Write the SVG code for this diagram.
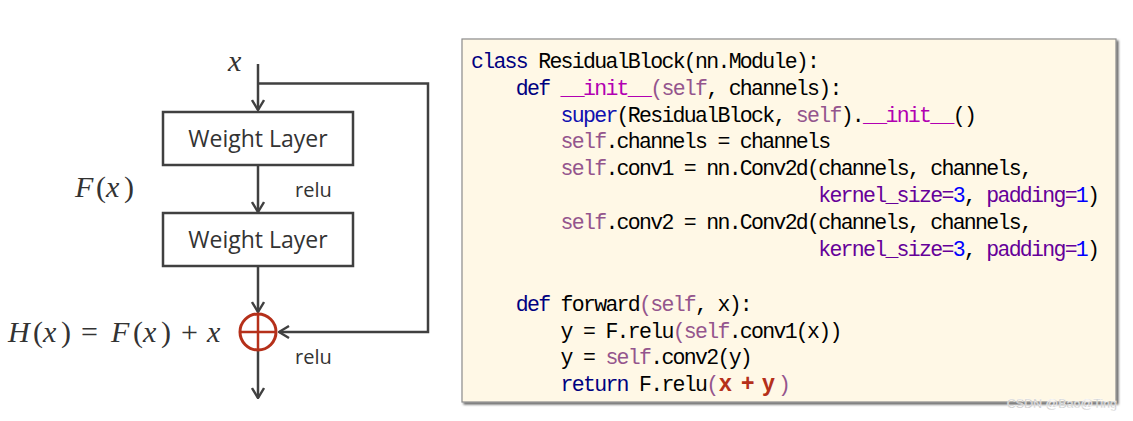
<svg xmlns="http://www.w3.org/2000/svg" width="1133" height="421" viewBox="0 0 1133 421">
<defs>
<marker id="arr" viewBox="0 0 12 14" refX="11" refY="7" markerWidth="12" markerHeight="14" orient="auto" markerUnits="userSpaceOnUse">
<path d="M1,1 L11,7 L1,13" fill="none" stroke="#404040" stroke-width="2.4"/>
</marker>
<filter id="sh" x="-5%" y="-5%" width="110%" height="110%">
<feDropShadow dx="2" dy="2" stdDeviation="1.2" flood-color="#000" flood-opacity="0.6"/>
</filter>
</defs>
<style>
.box{fill:#fff;stroke:#404040;stroke-width:2.5}
.lbl{font-family:"Open Sans","Noto Sans",sans-serif;font-size:23px;fill:#333;text-anchor:middle}
.relu{font-family:"Open Sans","Noto Sans",sans-serif;font-size:20px;fill:#333}
.math{font-family:"Liberation Serif",serif;font-size:30px;fill:#333}
.it{font-style:italic}
.conn{fill:none;stroke:#404040;stroke-width:2.5}
.code{font-family:"Liberation Mono",monospace;font-size:21.5px;letter-spacing:-1.7px;fill:#000;white-space:pre}
.kw{fill:#000080}
.bi{fill:#1010b0}
.sf{fill:#94558d}
.mg{fill:#b200b2}
.pr{fill:#660099}
.nm{fill:#0000ff}
.rd{font-family:"Liberation Sans",sans-serif;font-weight:bold;font-size:23px;fill:#b5301a}
</style>

<g id="connectors">
<path class="conn" d="M258,64 V110" marker-end="url(#arr)"/>
<path class="conn" d="M258,83.5 H428 V332 H279" marker-end="url(#arr)"/>
<path class="conn" d="M258,165 V212" marker-end="url(#arr)"/>
<path class="conn" d="M258,266 V312" marker-end="url(#arr)"/>
<path class="conn" d="M258,351 V398" marker-end="url(#arr)"/>
</g>

<g id="node-input">
<text class="math it" x="228" y="71">x</text>
</g>

<g id="node-weight1">
<rect class="box" x="163" y="112" width="190" height="53"/>
<text class="lbl" x="258" y="147">Weight Layer</text>
</g>

<g id="node-weight2">
<rect class="box" x="163" y="213" width="190" height="53"/>
<text class="lbl" x="258" y="248">Weight Layer</text>
</g>

<g id="node-add">
<circle cx="258" cy="332" r="18" fill="none" stroke="#b5301a" stroke-width="3"/>
<path d="M240,332 H276 M258,314 V350" stroke="#b5301a" stroke-width="2.5" fill="none"/>
</g>

<g id="labels">
<text class="relu" x="295" y="197">relu</text>
<text class="relu" x="295" y="364">relu</text>
<text class="math" y="197"><tspan class="it" x="75">F</tspan><tspan x="96">(</tspan><tspan class="it" x="106">x</tspan><tspan x="124">)</tspan></text>
<text class="math" y="342"><tspan class="it" x="8">H</tspan><tspan x="33">(</tspan><tspan class="it" x="43">x</tspan><tspan x="61">)</tspan><tspan x="81">=</tspan><tspan class="it" x="111">F</tspan><tspan x="133">(</tspan><tspan class="it" x="143">x</tspan><tspan x="161">)</tspan><tspan x="181">+</tspan><tspan class="it" x="207">x</tspan></text>
</g>

<g id="code-block">
<rect x="462" y="39" width="654" height="363" fill="#fff8e6" stroke="#8c8c8c" stroke-width="1.2" filter="url(#sh)"/>
<text class="code" x="471" y="68" xml:space="preserve"><tspan class="kw">class</tspan> ResidualBlock(nn.Module):</text>
<text class="code" x="515.8" y="95" xml:space="preserve"><tspan class="kw">def</tspan> <tspan class="mg">__init__</tspan><tspan class="sf">(self</tspan>, channels):</text>
<text class="code" x="560.6" y="122" xml:space="preserve"><tspan class="bi">super</tspan>(ResidualBlock, <tspan class="sf">self</tspan>).<tspan class="mg">__init__</tspan>()</text>
<text class="code" x="560.6" y="148" xml:space="preserve"><tspan class="sf">self</tspan>.channels = channels</text>
<text class="code" x="560.6" y="175" xml:space="preserve"><tspan class="sf">self</tspan>.conv1 = nn.Conv2d(channels, channels,</text>
<text class="code" x="818.2" y="202" xml:space="preserve"><tspan class="pr">kernel_size=</tspan><tspan class="nm">3</tspan>, <tspan class="pr">padding=</tspan><tspan class="nm">1</tspan>)</text>
<text class="code" x="560.6" y="229" xml:space="preserve"><tspan class="sf">self</tspan>.conv2 = nn.Conv2d(channels, channels,</text>
<text class="code" x="818.2" y="256" xml:space="preserve"><tspan class="pr">kernel_size=</tspan><tspan class="nm">3</tspan>, <tspan class="pr">padding=</tspan><tspan class="nm">1</tspan>)</text>
<text class="code" x="515.8" y="311" xml:space="preserve"><tspan class="kw">def</tspan> forward<tspan class="sf">(self</tspan>, x):</text>
<text class="code" x="560.6" y="338" xml:space="preserve">y = F.relu<tspan class="sf">(self</tspan>.conv1(x))</text>
<text class="code" x="560.6" y="364" xml:space="preserve">y = <tspan class="sf">self</tspan>.conv2(y)</text>
<text class="code" x="560.6" y="391" xml:space="preserve"><tspan class="kw">return</tspan> F.relu<tspan class="sf">(</tspan></text>
<text class="rd" y="391"><tspan x="719">x</tspan><tspan x="741">+</tspan><tspan x="762">y</tspan></text>
<text class="code" x="778" y="391"><tspan class="sf">)</tspan></text>
</g>

<g id="watermark">
<text x="1117" y="408" text-anchor="end" font-family="Liberation Sans,sans-serif" font-size="12.5" fill="#b4b4b4" stroke="#fff" stroke-width="0.4">CSDN @Bao@Ting</text>
</g>
</svg>
